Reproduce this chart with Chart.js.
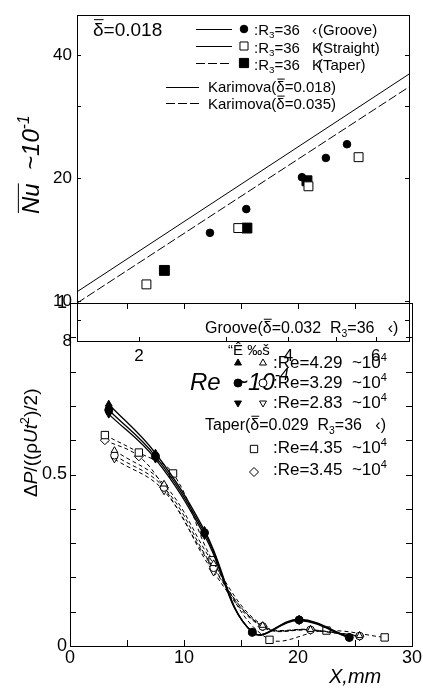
<!DOCTYPE html>
<html><head><meta charset="utf-8">
<script src="https://cdn.jsdelivr.net/npm/chart.js@4.4.0/dist/chart.umd.min.js"></script>
<style>
html,body{margin:0;padding:0;background:#fff;}
#wrap{position:relative;width:423px;height:692px;}
canvas{position:absolute;left:0;top:0;}
</style></head><body>
<div id="wrap"><canvas id="topc" width="423" height="692"></canvas><canvas id="botc" width="423" height="692"></canvas></div>
<script>
// ---------- Top chart data (Nu x 10^-1 vs Re x 10^-4) ----------
const reGroove   = [2.78, 3.29, 4.26, 4.76, 5.25];
const nuGroove   = [14.7, 16.8, 20.1, 22.4, 24.2];
const reStraight = [2.07, 3.17, 4.39, 5.54];
const nuStraight = [11.0, 15.1, 19.1, 22.5];
const reTaper    = [2.25, 3.30, 4.36];
const nuTaper    = [11.9, 15.1, 19.7];
const reKarimova    = [1.5, 7.0];
const nuKarimova018 = [10.55, 35.9];
const nuKarimova035 = [9.9, 33.4];
const topXTicks  = [2, 3, 4, 5, 6];
const topXLabels = [2, 4, 6];
const topYTicks  = [8, 9, 10, 20, 30, 40];
const topYLabels = [8, 10, 20, 40];

// ---------- Bottom chart data (dP/(rho Ut^2/2) vs X, mm) ----------
const xGrooveFilled = [3.4, 7.5, 11.8, 16.0, 20.1, 24.5];
const dpGrooveF429  = [0.705, 0.562, 0.337, 0.040, 0.078, 0.026];
const dpGrooveF329  = [0.688, 0.553, 0.330, 0.040, 0.076, 0.025];
const dpGrooveF283  = [0.676, 0.545, 0.322, 0.040, 0.074, 0.024];
const xGrooveOpen   = [3.9, 8.25, 12.6, 16.9, 21.1, 25.4];
const dpGrooveO429  = [0.570, 0.472, 0.240, 0.060, 0.048, 0.030];
const dpGrooveO329  = [0.556, 0.462, 0.228, 0.057, 0.047, 0.029];
const dpGrooveO283  = [0.545, 0.452, 0.215, 0.055, 0.046, 0.028];
const xTaper435     = [3.06, 6.04, 9.04, 12.5, 17.5, 22.5, 27.6];
const dpTaper435    = [0.615, 0.564, 0.503, 0.250, 0.018, 0.045, 0.025];
const xTaper345     = [3.06, 6.04, 8.25, 12.6, 16.9, 21.1, 25.4];
const dpTaper345    = [0.600, 0.553, 0.462, 0.225, 0.057, 0.047, 0.029];
const botXLabels = [0, 10, 20, 30];
const botYLabels = [0, 0.5, 1];

const F = "'Liberation Sans', Arial, sans-serif";
Chart.defaults.font.family = F;
Chart.defaults.color = '#000';

function zip(xs, ys) { return xs.map((x, i) => ({x: x, y: ys[i]})); }

function rich(ctx, x, y, segs, size) {
  let cx = x;
  for (const s of segs) {
    const o = typeof s === 'string' ? {t: s} : s;
    const sz = (o.sub || o.sup) ? size * 0.65 : size;
    ctx.font = (o.it ? 'italic ' : '') + sz + 'px ' + F;
    const dy = o.sub ? size * 0.22 : (o.sup ? -size * 0.42 : 0);
    ctx.fillText(o.t, cx, y + dy);
    const w = ctx.measureText(o.t).width;
    if (o.over) {
      ctx.beginPath();
      ctx.lineWidth = 1;
      ctx.moveTo(cx + 1, y - size * 0.86);
      ctx.lineTo(cx + w, y - size * 0.86);
      ctx.stroke();
    }
    cx += w;
  }
  return cx;
}

function marker(ctx, style, x, y, r, filled, rot) {
  ctx.save();
  ctx.fillStyle = filled ? '#000' : '#fff';
  ctx.strokeStyle = '#000';
  ctx.lineWidth = 1;
  Chart.helpers.drawPoint(ctx, {pointStyle: style, radius: r, rotation: rot || 0, borderWidth: 1}, x, y);
  ctx.restore();
}

const framePlugin = {
  id: 'frame',
  afterDatasetsDraw(chart, args, o) {
    const ctx = chart.ctx, a = chart.chartArea;
    const xs = chart.scales.x, ys = chart.scales.y;
    ctx.save();
    ctx.strokeStyle = '#000'; ctx.lineWidth = 1; ctx.setLineDash([]);
    ctx.strokeRect(Math.round(a.left) + 0.5, Math.round(a.top) + 0.5, Math.round(a.right - a.left), Math.round(a.bottom - a.top));
    ctx.beginPath();
    for (const t of xs.ticks) {
      const p = Math.round(xs.getPixelForValue(t.value)) + 0.5;
      ctx.moveTo(p, a.bottom); ctx.lineTo(p, a.bottom - o.len);
      if (o.top) { ctx.moveTo(p, a.top); ctx.lineTo(p, a.top + o.len); }
    }
    for (const t of ys.ticks) {
      const p = Math.round(ys.getPixelForValue(t.value)) + 0.5;
      ctx.moveTo(a.left, p); ctx.lineTo(a.left + o.len, p);
      if (o.right) { ctx.moveTo(a.right, p); ctx.lineTo(a.right - o.len, p); }
    }
    ctx.stroke();
    ctx.restore();
  }
};

const topText = {
  id: 'topText',
  afterDraw(chart) {
    const ctx = chart.ctx;
    ctx.save();
    ctx.fillStyle = '#000'; ctx.strokeStyle = '#000';
    ctx.textBaseline = 'alphabetic'; ctx.textAlign = 'left';
    rich(ctx, 93, 36, [{t: 'δ', over: true}, '=0.018'], 19);
    const rows = [
      {y: 29, b: 35, dash: [], st: 'circle', r: 3.8, f: true, g: '‹', n: '(Groove)'},
      {y: 46, b: 53, dash: [], st: 'rect', r: 5.7, f: false, g: 'K', n: '(Straight)'},
      {y: 63, b: 70, dash: [9, 3], st: 'rect', r: 6.5, f: true, g: 'K', n: '(Taper)'}
    ];
    for (const rw of rows) {
      ctx.beginPath(); ctx.lineWidth = 1; ctx.setLineDash(rw.dash);
      ctx.moveTo(196, rw.y + 0.5); ctx.lineTo(232, rw.y + 0.5); ctx.stroke();
      ctx.setLineDash([]);
      marker(ctx, rw.st, 244, rw.y, rw.r, rw.f);
      rich(ctx, 254, rw.b, [':R', {t: '3', sub: true}, '=36'], 15);
      ctx.font = '15px ' + F;
      ctx.fillText(rw.g, 312, rw.b);
      ctx.fillText(rw.n, 318, rw.b);
    }
    const kr = [{y: 87, b: 92, dash: [], v: '0.018'}, {y: 103, b: 109, dash: [9, 3], v: '0.035'}];
    for (const k of kr) {
      ctx.beginPath(); ctx.lineWidth = 1; ctx.setLineDash(k.dash);
      ctx.moveTo(166, k.y + 0.5); ctx.lineTo(199, k.y + 0.5); ctx.stroke();
      ctx.setLineDash([]);
      rich(ctx, 208, k.b, ['Karimova(', {t: 'δ', over: true}, '=' + k.v + ')'], 15);
    }
    // y title
    ctx.save();
    ctx.translate(39, 214); ctx.rotate(-Math.PI / 2);
    rich(ctx, 0, 0, [{t: 'Nu', it: true, over: true}, {t: '  ~10', it: true}, {t: '-1', it: true, sup: true}], 24);
    ctx.restore();
    // x title
    rich(ctx, 190, 390, [{t: 'Re', it: true}, {t: '  ~10', it: true}, {t: '-4', it: true, sup: true}], 24);
    ctx.restore();
  }
};

const botText = {
  id: 'botText',
  afterDraw(chart) {
    const ctx = chart.ctx;
    ctx.save();
    ctx.fillStyle = '#000'; ctx.strokeStyle = '#000';
    ctx.textBaseline = 'alphabetic'; ctx.textAlign = 'left';
    rich(ctx, 205, 333, ['Groove(', {t: 'δ', over: true}, '=0.032  R', {t: '3', sub: true}, '=36   ‹)'], 16);
    ctx.font = '15px ' + F;
    ctx.fillText('“Ê ‰š', 228, 355);
    const g = [
      {y: 363, b: 368, st: 'triangle', rot: 0, re: '4.29'},
      {y: 383, b: 388, st: 'circle', rot: 0, re: '3.29'},
      {y: 403, b: 408, st: 'triangle', rot: 180, re: '2.83'}
    ];
    for (const r of g) {
      marker(ctx, r.st, 238, r.y, 4, true, r.rot);
      marker(ctx, r.st, 263, r.y, 4, false, r.rot);
      rich(ctx, 273, r.b, [':Re=' + r.re + '  ~10', {t: '4', sup: true}], 17);
    }
    rich(ctx, 205, 430, ['Taper(', {t: 'δ', over: true}, '=0.029  R', {t: '3', sub: true}, '=36   ‹)'], 16);
    marker(ctx, 'rect', 254, 449, 5.2, false);
    rich(ctx, 273, 453, [':Re=4.35  ~10', {t: '4', sup: true}], 17);
    marker(ctx, 'rectRot', 254, 472, 4.5, false);
    rich(ctx, 273, 475, [':Re=3.45  ~10', {t: '4', sup: true}], 17);
    // y title
    ctx.save();
    ctx.translate(37, 497); ctx.rotate(-Math.PI / 2);
    rich(ctx, 0, 0, ['Δ', {t: 'P', it: true}, '/((', 'ρ', {t: 'Ut', it: true}, {t: '2', sup: true}, ')/2)'], 19);
    ctx.restore();
    ctx.font = 'italic 20px ' + F;
    ctx.fillText('X,mm', 329, 683);
    ctx.restore();
  }
};

// ---------- Top chart ----------
new Chart(document.getElementById('topc'), {
  type: 'scatter',
  data: {
    datasets: [
      {data: zip(reGroove, nuGroove), pointStyle: 'circle', pointRadius: 3.8, backgroundColor: '#000', borderColor: '#000', borderWidth: 1},
      {data: zip(reStraight, nuStraight), pointStyle: 'rect', pointRadius: 6.3, backgroundColor: '#fff', borderColor: '#000', borderWidth: 1},
      {data: zip(reTaper, nuTaper), pointStyle: 'rect', pointRadius: 7, backgroundColor: '#000', borderColor: '#000', borderWidth: 1},
      {data: zip(reKarimova, nuKarimova018), showLine: true, pointRadius: 0, borderColor: '#000', borderWidth: 1, tension: 0},
      {data: zip(reKarimova, nuKarimova035), showLine: true, pointRadius: 0, borderColor: '#000', borderWidth: 1, borderDash: [9, 3], tension: 0}
    ]
  },
  options: {
    responsive: false, animation: false, devicePixelRatio: 1,
    layout: {autoPadding: false, padding: {left: 0, right: 14, top: 10, bottom: 321}},
    plugins: {legend: {display: false}, tooltip: {enabled: false}, frame: {len: 4, right: true, top: false}},
    scales: {
      x: {
        type: 'logarithmic', min: 1.5, max: 7.0,
        afterBuildTicks: s => { s.ticks = topXTicks.map(v => ({value: v})); },
        afterFit: s => { s.height = 30; },
        grid: {display: false, drawTicks: false}, border: {display: false},
        ticks: {autoSkip: false, maxRotation: 0, padding: 5, font: {size: 17},
          callback: v => topXLabels.includes(v) ? String(v) : ''}
      },
      y: {
        type: 'logarithmic', min: 8, max: 50,
        afterBuildTicks: s => { s.ticks = topYTicks.map(v => ({value: v})); },
        afterFit: s => { s.width = 77; },
        grid: {display: false, drawTicks: false}, border: {display: false},
        ticks: {autoSkip: false, padding: 5, font: {size: 17},
          callback: v => topYLabels.includes(v) ? String(v) : ''}
      }
    }
  },
  plugins: [framePlugin, topText]
});

// ---------- Bottom chart ----------
const solid = (xs, ys, st, rot) => ({data: zip(xs, ys), showLine: true, tension: 0.4, borderColor: '#000', borderWidth: 1.3,
  pointStyle: st, pointRotation: rot || 0, pointRadius: 4, pointBackgroundColor: '#000', pointBorderColor: '#000', pointBorderWidth: 1});
const dashed = (xs, ys, st, rot, r) => ({data: zip(xs, ys), showLine: true, tension: 0.4, borderColor: '#000', borderWidth: 1, borderDash: [4, 3],
  pointStyle: st, pointRotation: rot || 0, pointRadius: r || 3.8, pointBackgroundColor: '#fff', pointBorderColor: '#000', pointBorderWidth: 1});

new Chart(document.getElementById('botc'), {
  type: 'scatter',
  data: {
    datasets: [
      solid(xGrooveFilled, dpGrooveF429, 'triangle', 0),
      solid(xGrooveFilled, dpGrooveF329, 'circle', 0),
      solid(xGrooveFilled, dpGrooveF283, 'triangle', 180),
      dashed(xGrooveOpen, dpGrooveO429, 'triangle', 0),
      dashed(xGrooveOpen, dpGrooveO329, 'circle', 0),
      dashed(xGrooveOpen, dpGrooveO283, 'triangle', 180),
      dashed(xTaper435, dpTaper435, 'rect', 0, 5.2),
      dashed(xTaper345, dpTaper345, 'rectRot', 0, 4.5)
    ]
  },
  options: {
    responsive: false, animation: false, devicePixelRatio: 1,
    layout: {autoPadding: false, padding: {left: 0, right: 10, top: 303, bottom: 0}},
    plugins: {legend: {display: false}, tooltip: {enabled: false}, frame: {len: 6, right: true, top: true}},
    scales: {
      x: {
        type: 'linear', min: 0, max: 30,
        afterFit: s => { s.height = 46; },
        grid: {display: false, drawTicks: false}, border: {display: false},
        ticks: {stepSize: 5, autoSkip: false, maxRotation: 0, padding: 1, font: {size: 18},
          callback: v => botXLabels.includes(v) ? String(v) : ''}
      },
      y: {
        type: 'linear', min: 0, max: 1,
        afterFit: s => { s.width = 70; },
        grid: {display: false, drawTicks: false}, border: {display: false},
        ticks: {stepSize: 0.1, autoSkip: false, padding: 3, font: {size: 18},
          callback: v => botYLabels.some(l => Math.abs(l - v) < 1e-6) ? String(Math.round(v * 10) / 10) : ''}
      }
    }
  },
  plugins: [framePlugin, botText]
});
</script></body></html>
